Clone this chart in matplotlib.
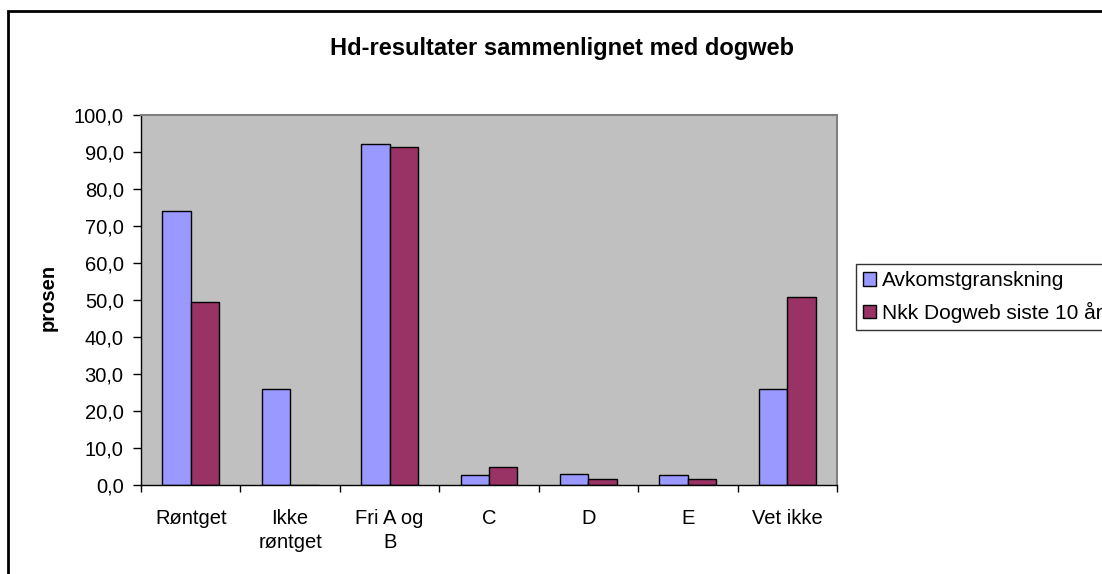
import matplotlib
matplotlib.use("Agg")
import matplotlib.pyplot as plt
from matplotlib.patches import Rectangle
import numpy as np

plt.rcParams['font.family'] = ['Liberation Sans', 'DejaVu Sans']

categories = ['Røntget', 'Ikke\nrøntget', 'Fri A og\nB', 'C', 'D', 'E', 'Vet ikke']
avkomst = [74.0, 26.0, 92.2, 2.6, 3.0, 2.6, 26.0]
dogweb = [49.5, 0.0, 91.3, 4.8, 1.7, 1.7, 50.8]
series_names = ['Avkomstgranskning', 'Nkk Dogweb siste 10 år']
colors = ['#9999FF', '#993366']

W, H = 1102, 574
fig = plt.figure(figsize=(W / 100, H / 100), dpi=100)
fig.patch.set_facecolor('white')

# outer chart frame (runs past the right and bottom edge)
fig.patches.append(Rectangle((8 / W, -0.1), 1.2, 1 - 11 / H + 0.1, transform=fig.transFigure,
                             fill=False, edgecolor='black', linewidth=2))

ax = fig.add_axes([141 / W, 1 - 485 / H, (837 - 141) / W, (485 - 115) / H])
ax.set_facecolor('#C0C0C0')

x = np.arange(len(categories))
bw = 1 / 3.5
ax.bar(x - bw / 2, avkomst, bw, color=colors[0], edgecolor='black', linewidth=1, label=series_names[0])
ax.bar(x + bw / 2, dogweb, bw, color=colors[1], edgecolor='black', linewidth=1, label=series_names[1])

ax.set_xlim(-0.5, len(categories) - 0.5)
ax.set_ylim(0, 100)
ax.set_yticks(np.arange(0, 101, 10))
ax.set_yticklabels([f"{v:.1f}".replace('.', ',') for v in np.arange(0, 101, 10)], fontsize=14.5)
ax.tick_params(axis='y', length=5.5, width=1, pad=7)

ax.set_xticks(x)
ax.set_xticklabels(categories, fontsize=14.5, linespacing=1.35, va='top')
ax.tick_params(axis='x', which='major', length=0, pad=17)
ax.set_xticks(np.arange(-0.5, len(categories)), minor=True)
ax.tick_params(axis='x', which='minor', length=5, width=1)

for s in ['top', 'right']:
    ax.spines[s].set_color('#808080')
    ax.spines[s].set_linewidth(1.5)
for s in ['left', 'bottom']:
    ax.spines[s].set_color('black')
    ax.spines[s].set_linewidth(1)

fig.text(562 / W, 1 - 48 / H, 'Hd-resultater sammenlignet med dogweb', ha='center', va='center',
         fontsize=17, fontweight='bold')
fig.text(48 / W, 1 - 297 / H, 'prosen', rotation=90, ha='center', va='center',
         fontsize=14.5, fontweight='bold')

leg = fig.legend(loc='upper left', bbox_to_anchor=(856 / W, 1 - 264 / H), fontsize=15,
                 frameon=True, fancybox=False, edgecolor='black', handlelength=0.6, handleheight=0.6,
                 handletextpad=0.3, borderpad=0.35, labelspacing=0.55, borderaxespad=0)
leg.get_frame().set_linewidth(1)

fig.savefig('out.png', dpi=100)
